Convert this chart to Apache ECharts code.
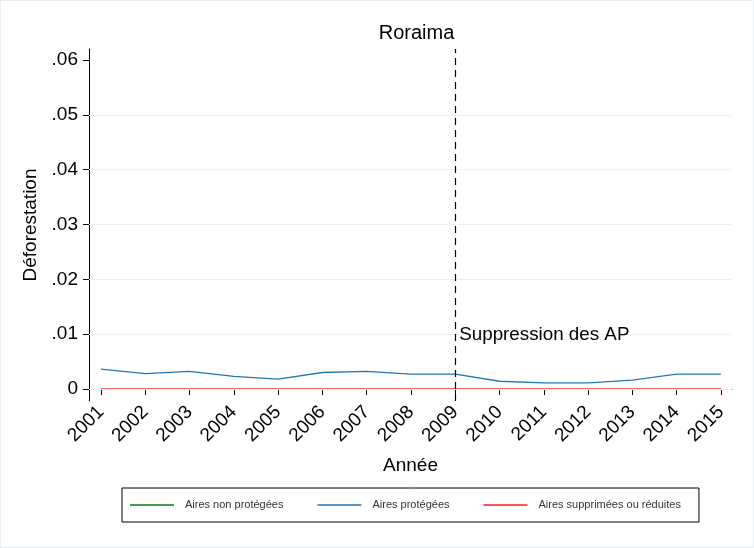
<!DOCTYPE html>
<html><head><meta charset="utf-8">
<script src="https://cdn.jsdelivr.net/npm/echarts@6/dist/echarts.min.js"></script>
<style>html,body{margin:0;padding:0;background:#fff}#c{width:754px;height:548px;box-sizing:border-box;border:1px solid #e6eef1}</style>
</head><body><div id="c"></div>
<script>
const years = [2001,2002,2003,2004,2005,2006,2007,2008,2009,2010,2011,2012,2013,2014,2015];
const airesNonProtegees = [0,0,0,0,0,0,0,0,0,0,0,0,0,0,0];
const airesProtegees = [0.0036,0.0028,0.0032,0.0023,0.0018,0.0030,0.0032,0.0027,0.0027,0.0014,0.0011,0.0011,0.0016,0.0027,0.0027];
const airesSupprimees = [0,0,0,0,0,0,0,0,0,0,0,0,0,0,0];
const yTicks = [0,0.01,0.02,0.03,0.04,0.05,0.06];
const gridYTicks = [0,0.01,0.02,0.03,0.04,0.05];
const eventYear = 2009;
const eventLabel = 'Suppression des AP';
const eventLabelY = 0.0098;

const font = 'Liberation Sans, Arial, sans-serif';
const chart = echarts.init(document.getElementById('c'));
const pair = arr => years.map((y,i)=>[y,arr[i]]);
chart.setOption({
  animation:false,
  textStyle:{fontFamily:font},
  title:{text:'Roraima',left:410.5,textAlign:'center',top:17,textStyle:{fontFamily:font,fontSize:20,fontWeight:'normal',color:'#000'}},
  grid:{left:88,right:21,top:48,bottom:146},
  legend:{left:121,top:487,itemWidth:44,itemHeight:1.5,itemGap:34,padding:[10,18,10,8],
    borderColor:'#000',borderWidth:1,icon:'path://M0,0L44,0L44,1.5L0,1.5Z',
    textStyle:{fontFamily:font,fontSize:11,color:'#333',padding:[0,0,0,6],lineHeight:14},
    data:['Aires non protégées','Aires protégées','Aires supprimées ou réduites']},
  xAxis:{type:'value',min:2000.73,max:2015.25,
    name:'Année',nameLocation:'middle',nameGap:55,nameTextStyle:{fontFamily:font,fontSize:19,color:'#000'},
    axisLine:{lineStyle:{color:'#000',width:1}},
    axisTick:{customValues:years,length:6,lineStyle:{color:'#000'}},
    axisLabel:{customValues:years,rotate:45,fontSize:19,color:'#000',margin:8,formatter:v=>String(v)},
    splitLine:{show:false}},
  yAxis:{type:'value',min:-0.0022,max:0.062,
    name:'Déforestation',nameLocation:'middle',nameGap:47,nameRotate:90,nameTextStyle:{fontFamily:font,fontSize:19,color:'#000'},
    axisLine:{show:true,lineStyle:{color:'#000',width:1}},
    axisTick:{show:true,customValues:yTicks,length:6,lineStyle:{color:'#000'}},
    axisLabel:{customValues:yTicks,fontSize:19,color:'#000',margin:11,formatter:v=>v===0?'0':String(+v.toFixed(2)).replace(/^0\./,'.')},
    splitLine:{show:false}},
  series:[
    {name:'Aires non protégées',type:'line',data:pair(airesNonProtegees),showSymbol:false,symbol:'none',lineStyle:{color:'#1a7a1a',width:1.3},itemStyle:{color:'#0a7d0a'},z:2,
     markLine:{silent:true,symbol:'none',label:{show:false},lineStyle:{color:'#eaf1f3',width:1,type:'solid'},data:gridYTicks.map(v=>({yAxis:v}))}},
    {name:'Aires protégées',type:'line',data:pair(airesProtegees),showSymbol:false,symbol:'none',lineStyle:{color:'#1f78b4',width:1.3},itemStyle:{color:'#1a78b8'},z:4,
     markLine:{silent:true,symbol:'none',label:{show:false},lineStyle:{color:'#000',width:1.2,type:[7,5]},data:[{xAxis:eventYear}]},
     markPoint:{symbol:'circle',symbolSize:0,label:{show:true,position:'right',distance:4,formatter:eventLabel,fontFamily:font,fontSize:18.8,color:'#000'},data:[{coord:[eventYear,eventLabelY]}]}},
    {name:'Aires supprimées ou réduites',type:'line',data:pair(airesSupprimees),showSymbol:false,symbol:'none',lineStyle:{color:'#f86a6a',width:2},itemStyle:{color:'#ff1a1a'},z:3}
  ]
});
</script></body></html>
